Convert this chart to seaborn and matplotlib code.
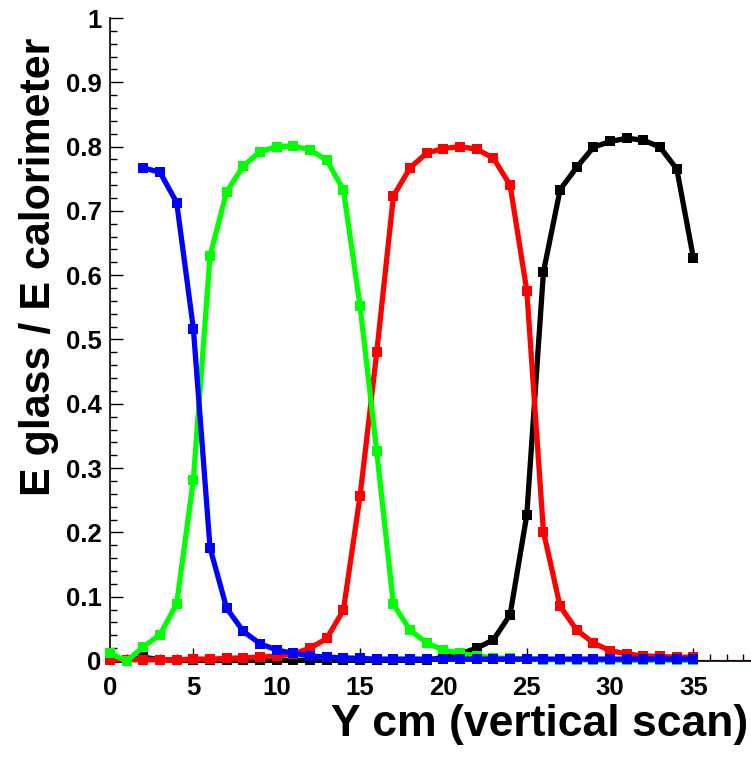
import matplotlib
matplotlib.use("Agg")
import matplotlib.pyplot as plt
from matplotlib.ticker import MultipleLocator, FuncFormatter
import numpy as np
import pandas as pd
import seaborn as sns

# Scan positions (cm) and energy fractions for the four glass blocks
y_cm = [0, 1, 2, 3, 4, 5, 6, 7, 8, 9, 10, 11, 12, 13, 14, 15, 16, 17,
        18, 19, 20, 21, 22, 23, 24, 25, 26, 27, 28, 29, 30, 31, 32, 33, 34, 35]

frac_black = [0.001, 0.001, 0.006, 0.002, 0.001, 0.001, 0.001, 0.001, 0.001,
              0.001, 0.001, 0.001, 0.001, 0.001, 0.001, 0.001, 0.001, 0.001,
              0.001, 0.001, 0.006, 0.011, 0.020, 0.033, 0.072, 0.227, 0.605,
              0.733, 0.768, 0.799, 0.808, 0.813, 0.810, 0.799, 0.765, 0.626]

frac_red = [0.002, 0.002, 0.002, 0.002, 0.002, 0.003, 0.003, 0.004, 0.005,
            0.006, 0.008, 0.011, 0.020, 0.035, 0.079, 0.257, 0.480, 0.723,
            0.767, 0.790, 0.797, 0.800, 0.796, 0.782, 0.740, 0.576, 0.201,
            0.085, 0.048, 0.028, 0.016, 0.011, 0.008, 0.007, 0.006, 0.006]

frac_green = [0.012, 0.000, 0.022, 0.041, 0.089, 0.282, 0.630, 0.730, 0.770,
              0.792, 0.800, 0.801, 0.795, 0.779, 0.733, 0.552, 0.326, 0.088,
              0.048, 0.028, 0.017, 0.012, 0.008, 0.005, 0.004, 0.003, 0.002,
              0.002, 0.002, 0.001, 0.001, 0.001, 0.001, 0.001, 0.001, 0.001]

# blue block is scanned from 2 cm onwards
y_cm_blue = y_cm[2:]
frac_blue = [0.767, 0.760, 0.713, 0.517, 0.176, 0.082, 0.046, 0.027, 0.017,
             0.012, 0.008, 0.006, 0.005, 0.004, 0.003, 0.003, 0.003, 0.003,
             0.003, 0.003, 0.003, 0.003, 0.003, 0.003, 0.003, 0.003, 0.003,
             0.003, 0.003, 0.003, 0.003, 0.003, 0.003, 0.003]

series = [
    ("black", y_cm, frac_black, "#000000"),
    ("red", y_cm, frac_red, "#ff0000"),
    ("green", y_cm, frac_green, "#00ff00"),
    ("blue", y_cm_blue, frac_blue, "#0000ff"),
]

sns.set_style("ticks")
plt.rcParams["font.family"] = ["Liberation Sans", "DejaVu Sans"]
plt.rcParams["font.weight"] = "bold"
for key in ["text.color", "axes.labelcolor", "xtick.color", "ytick.color",
            "axes.edgecolor"]:
    plt.rcParams[key] = "black"

W, H = 751, 763
fig = plt.figure(figsize=(W / 100, H / 100), dpi=100)
ax = fig.add_axes([110 / W, (H - 661) / H, (W - 110) / W, 643 / H])

for name, xs, ys, col in series:
    df = pd.DataFrame({"y_cm": xs, "frac": ys})
    sns.lineplot(data=df, x="y_cm", y="frac", ax=ax, color=col, sort=False,
                 linewidth=3.8, marker="s", markersize=7.0,
                 markeredgewidth=0, markerfacecolor=col, clip_on=False,
                 solid_joinstyle="round", solid_capstyle="round", zorder=3)

ax.axhline(0, color="#ff0000", linewidth=1.6, zorder=2.5)

ax.set_xlim(0, 38.45)
ax.set_ylim(0, 1)
ax.set_xlabel("")
ax.set_ylabel("")

ax.xaxis.set_major_locator(MultipleLocator(5))
ax.xaxis.set_minor_locator(MultipleLocator(1))
ax.yaxis.set_major_locator(MultipleLocator(0.1))
ax.yaxis.set_minor_locator(MultipleLocator(0.02))
ax.yaxis.set_major_formatter(FuncFormatter(lambda v, p: f"{v:g}"))
ax.xaxis.set_major_formatter(FuncFormatter(lambda v, p: f"{v:g}"))

ax.tick_params(axis="both", which="both", direction="in", color="black",
               labelcolor="black", width=1.0, labelsize=18.5)
ax.tick_params(axis="both", which="major", length=9.5)
ax.tick_params(axis="both", which="minor", length=5)
ax.tick_params(axis="x", which="major", pad=11)
ax.tick_params(axis="y", which="major", pad=6)
for lab in ax.get_xticklabels() + ax.get_yticklabels():
    lab.set_fontweight("bold")

sns.despine(ax=ax, top=True, right=True)
ax.spines["left"].set_linewidth(1.2)
ax.spines["bottom"].set_linewidth(1.2)
ax.spines["left"].set_color("black")
ax.spines["bottom"].set_color("black")

fig.text(748 / W, 1 - 736 / H, "Y cm (vertical scan)", ha="right",
         va="baseline", fontsize=32, fontweight="bold", color="black")
fig.text(39 / W, 1 - 38 / H, "E glass / E calorimeter", rotation=90,
         ha="center", va="top", fontsize=31, fontweight="bold", color="black")

fig.savefig("out.png", dpi=100)
